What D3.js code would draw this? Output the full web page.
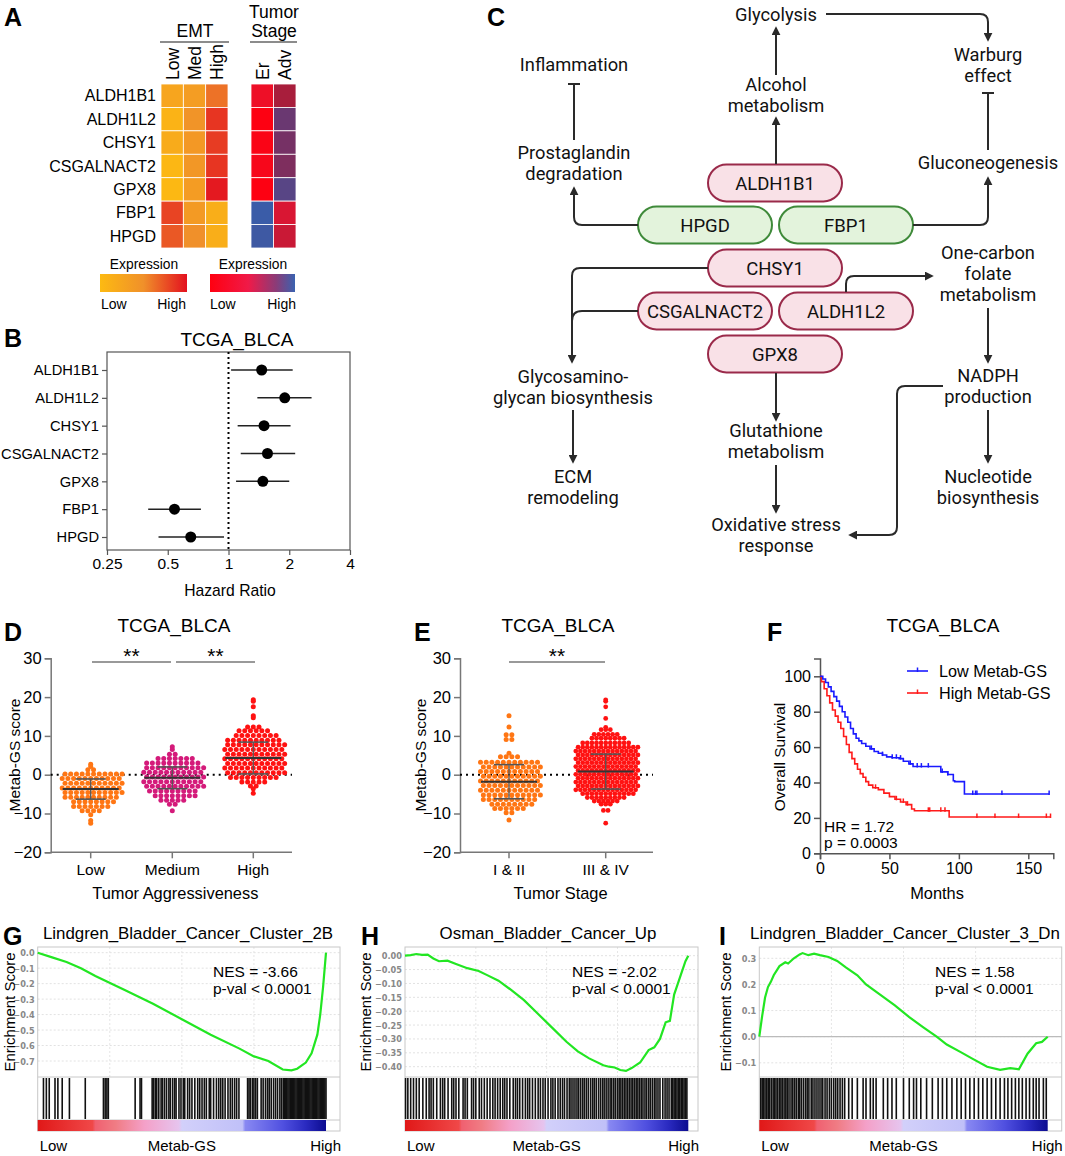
<!DOCTYPE html>
<html>
<head>
<meta charset="utf-8">
<script src="https://cdn.jsdelivr.net/npm/d3@7"></script>
<style>
  body { margin: 0; background: #fff; }
  svg { display: block; }
</style>
</head>
<body>
<div id="fig"></div>
<script>
// ---- data ----
const genes = ['ALDH1B1', 'ALDH1L2', 'CHSY1', 'CSGALNACT2', 'GPX8', 'FBP1', 'HPGD'];
const emtGroups = ['Low', 'Med', 'High'];
const stageGroups = ['Er', 'Adv'];
// relative expression 0 (low) .. 1 (high)
const emtExpr = [
  [0.25, 0.35, 0.62], [0.08, 0.45, 0.86], [0.18, 0.40, 0.83], [0.04, 0.42, 0.86],
  [0.02, 0.36, 0.97], [0.80, 0.38, 0.14], [0.72, 0.50, 0.14]
];
const stageExpr = [
  [0.22, 0.55], [0.02, 0.78], [0.06, 0.73], [0.10, 0.70],
  [0.02, 0.86], [1.00, 0.36], [0.98, 0.42]
];

// panel B, hazard ratios with 95% CI
const hrValue = [1.46, 1.90, 1.50, 1.56, 1.48, 0.54, 0.65];
const hrLow = [1.03, 1.39, 1.11, 1.15, 1.09, 0.40, 0.45];
const hrHigh = [2.08, 2.58, 2.03, 2.14, 2.00, 0.73, 0.95];
const hrTicks = [0.25, 0.5, 1, 2, 4];

// panel D / E: dot rows as [score, number of dots in the row]
const aggrGroups = ['Low', 'Medium', 'High'];
const aggrRows = [
  [[2.7,1],[2.1,1],[1.3,2],[0.2,11],[-1,11],[-2.2,11],[-3.4,11],[-4.6,11],[-5.8,10],[-7,8],[-8.2,7],[-9.3,4],[-10.3,1],[-11.8,1],[-12.5,1]],
  [[7.2,1],[6.5,1],[5.3,2],[4.2,7],[3,10],[1.8,11],[0.6,11],[-0.6,11],[-1.8,11],[-3,11],[-4.2,9],[-5.4,8],[-6.6,5],[-7.6,2],[-9.3,1]],
  [[19.3,1],[18.9,1],[17.5,1],[15.2,1],[14.7,1],[12.3,3],[11.3,6],[10.1,8],[8.9,10],[7.7,11],[6.5,11],[5.3,11],[4.1,11],[2.9,11],[1.7,11],[0.5,11],[-0.7,9],[-1.9,5],[-2.9,2],[-3.6,1],[-4.8,1]]
];
const aggrMean = [-3.7, -0.8, 4.3];
const aggrSd = [2.6, 2.8, 4.1];
const aggrColors = ['#ff7614', '#d41a7a', '#ff1212'];

const stageGroupsE = ['I & II', 'III & IV'];
const stageRows = [
  [[15.2,1],[12.3,1],[10.3,2],[9.1,2],[5.5,1],[4.6,4],[3.2,11],[2,11],[0.8,11],[-0.4,11],[-1.6,11],[-2.8,11],[-4,11],[-5.2,11],[-6.4,10],[-7.6,8],[-8.7,6],[-9.8,2],[-11.7,1]],
  [[19.3,1],[18.9,1],[17.5,1],[14.5,1],[12.2,1],[11.6,3],[10.4,6],[9.4,8],[8.2,11],[7.1,14],[6.1,14],[5.1,14],[4.1,14],[3.1,14],[2.1,14],[1.1,14],[0.1,14],[-0.9,14],[-1.9,14],[-2.9,14],[-3.9,14],[-4.9,12],[-5.9,9],[-6.8,6],[-7.6,3],[-9.2,2],[-12.5,1]]
];
const stageMean = [-1.8, 0.8];
const stageSd = [4.4, 4.5];
const stageColors = ['#ff7614', '#ff1212'];
const scoreTicks = [-20, -10, 0, 10, 20, 30];

// panel F: Kaplan-Meier steps [month, % surviving] and censor marks
const kmLowSteps = [[0,100],[2,98.5],[4,96.5],[6,94],[8,91.5],[10,88.5],[12,86],[14,83],[16,80],[18,77],[20,74],[22,70.5],[24,67.5],[26,65],[28,63.5],[30,62],[33,60.5],[36,59],[39,57.5],[42,56.5],[45,55.5],[48,54.5],[52,54],[57,53.5],[60,52],[64,50.5],[67,49],[87,46],[92,44.5],[96,41],[97,40.5],[104,33.5],[165,33.5]];
const kmLowCensor = [37, 45, 52, 55, 58, 65, 70, 73, 78, 88, 92, 110, 112, 113, 131, 165];
const kmHighSteps = [[0,100],[1,97],[3,93],[5,89],[7,85],[9,81],[11,77.5],[13,74],[15,70.5],[17,66],[19,61.5],[21,57],[23,53.5],[25,50.5],[27,47.5],[29,45],[31,43],[33,40.5],[35,38.5],[38,37],[42,36],[46,34],[50,32],[54,30.5],[58,29],[62,27.5],[66,25],[68,24],[93,20.5],[166,20.5]];
const kmHighCensor = [40, 55, 60, 63, 78, 79, 87, 90, 113, 126, 143, 163, 166];
const kmTicksX = [0, 50, 100, 150];
const kmTicksY = [0, 20, 40, 60, 80, 100];

// panels G-I: running enrichment score (rank fraction, ES) and hit positions
const esG = [[0,0],[0.05,-0.03],[0.1,-0.06],[0.15,-0.1],[0.2,-0.15],[0.3,-0.24],[0.4,-0.33],[0.5,-0.43],[0.6,-0.53],[0.7,-0.62],[0.75,-0.67],[0.8,-0.70],[0.85,-0.755],[0.88,-0.76],[0.9,-0.75],[0.93,-0.71],[0.95,-0.65],[0.97,-0.53],[0.98,-0.40],[0.99,-0.22],[1,0]];
const hitsG = [0.02,0.03,0.04,0.06,0.07,0.085,0.11,0.165,0.228,0.234,0.24,0.245,0.338,0.355,0.36,
  0.397,0.402,0.408,0.413,0.42,0.428,0.433,0.44,0.447,0.455,0.46,0.468,0.475,0.48,0.49,0.497,0.505,0.51,0.52,0.527,0.535,0.545,0.555,0.562,0.57,0.578,0.585,0.595,0.6,0.61,0.62,0.628,0.635,0.642,0.65,0.66,0.668,0.675,0.683,0.69,0.698,
  0.728,0.733,0.738,0.745,0.75,0.756,0.762,0.775,0.782,0.79,0.797,0.803,0.81,0.818,0.825,0.832,0.84,0.846,
  0.852,0.856,0.86,0.864,0.868,0.872,0.876,0.88,0.884,0.888,0.892,0.896,0.9,0.904,0.908,0.912,0.916,0.92,0.924,0.928,0.932,0.936,0.94,0.944,0.948,0.952,0.956,0.96,0.964,0.968,0.972,0.976,0.98,0.984,0.988,0.992,0.996,1];
const esH = [[0,0],[0.02,0.002],[0.04,0.006],[0.06,0.003],[0.08,0.004],[0.1,-0.01],[0.12,-0.02],[0.15,-0.018],[0.18,-0.03],[0.22,-0.045],[0.26,-0.055],[0.29,-0.07],[0.33,-0.09],[0.37,-0.12],[0.42,-0.16],[0.47,-0.21],[0.52,-0.26],[0.57,-0.31],[0.61,-0.345],[0.65,-0.37],[0.7,-0.395],[0.72,-0.40],[0.74,-0.403],[0.76,-0.412],[0.78,-0.415],[0.8,-0.405],[0.83,-0.385],[0.86,-0.34],[0.88,-0.33],[0.9,-0.30],[0.92,-0.24],[0.935,-0.235],[0.95,-0.14],[0.97,-0.08],[0.99,-0.02],[1,0]];
const hitsH = [0.002,0.01,0.02,0.03,0.04,0.05,0.063,0.075,0.085,0.092,0.1,0.112,0.125,0.133,0.14,0.152,0.165,0.172,0.18,0.19,0.205,0.212,0.22,0.235,0.242,0.25,0.262,0.27,0.28,0.29,0.3,0.31,0.318,0.327,0.336,0.345,0.352,0.36,0.37,0.382,0.39,0.397,0.405,0.415,0.425,0.433,0.44,0.45,0.46,0.47,0.478,0.487,0.495,0.505,0.515,0.522,0.53,0.54,0.548,0.556,0.563,0.572,0.58,0.586,0.593,0.6,0.607,0.613,0.62,0.627,0.633,0.64,0.647,0.655,0.662,0.668,0.675,0.683,0.69,0.697,0.703,0.71,0.717,0.724,0.73,0.737,0.743,0.75,0.756,0.762,0.768,0.774,0.78,0.786,0.792,0.798,0.804,0.81,0.816,0.822,0.828,0.834,0.84,0.847,0.853,0.86,0.866,0.873,0.88,0.886,0.893,0.9,0.91,0.918,0.925,0.932,0.94,0.945,0.95,0.955,0.96,0.965,0.97,0.975,0.98,0.985,0.99,0.995];
const esI = [[0,0],[0.01,0.08],[0.02,0.15],[0.03,0.19],[0.04,0.21],[0.05,0.235],[0.07,0.27],[0.09,0.285],[0.1,0.28],[0.12,0.30],[0.14,0.315],[0.15,0.32],[0.17,0.312],[0.19,0.318],[0.21,0.312],[0.24,0.305],[0.27,0.29],[0.3,0.265],[0.34,0.235],[0.37,0.20],[0.42,0.16],[0.47,0.12],[0.52,0.075],[0.57,0.035],[0.615,0],[0.65,-0.03],[0.7,-0.06],[0.74,-0.085],[0.79,-0.115],[0.835,-0.127],[0.87,-0.12],[0.9,-0.125],[0.93,-0.065],[0.96,-0.025],[0.98,-0.02],[1,0]];
const hitsI = [0.005,0.01,0.015,0.02,0.026,0.031,0.036,0.042,0.048,0.053,0.058,0.064,0.07,0.075,0.08,0.086,0.092,0.097,0.103,0.11,0.116,0.122,0.128,0.135,0.14,0.146,0.153,0.16,0.166,0.172,0.18,0.186,0.193,0.2,0.207,0.214,0.22,0.228,0.235,0.243,0.25,0.258,0.265,0.272,0.28,0.288,0.296,0.31,0.322,0.34,0.36,0.37,0.385,0.395,0.405,0.43,0.445,0.46,0.475,0.5,0.52,0.535,0.545,0.56,0.58,0.6,0.62,0.635,0.65,0.668,0.685,0.7,0.715,0.73,0.745,0.76,0.775,0.79,0.805,0.82,0.835,0.85,0.862,0.875,0.888,0.9,0.912,0.925,0.937,0.95,0.96,0.97,0.985,0.995];

// ---- drawing ----
const W = 1065, H = 1156;
const FONT = '"Liberation Sans", Arial, Helvetica, sans-serif';
const svg = d3.select('#fig').append('svg')
  .attr('width', W).attr('height', H)
  .attr('viewBox', `0 0 ${W} ${H}`)
  .style('font-family', FONT);
const defs = svg.append('defs');

function panelLabel(t, x, y) {
  svg.append('text').attr('x', x).attr('y', y).text(t)
    .style('font-size', '25px').style('font-weight', 'bold').attr('fill', '#000');
}

function addText(g, t, x, y, size, anchor = 'middle') {
  return g.append('text').attr('x', x).attr('y', y).text(t)
    .attr('text-anchor', anchor).style('font-size', size + 'px').attr('fill', '#000');
}

function gradient(id, stops) {
  const lg = defs.append('linearGradient').attr('id', id).attr('x1', 0).attr('x2', 1).attr('y1', 0).attr('y2', 0);
  stops.forEach(([o, c]) => lg.append('stop').attr('offset', o).attr('stop-color', c));
}

// Panel A: heatmaps
(function drawHeatmaps() {
  const g = svg.append('g');
  panelLabel('A', 4, 26);
  const y = d3.scaleBand().domain(genes).range([84, 248]);
  const xE = d3.scaleBand().domain(emtGroups).range([161, 228]);
  const xS = d3.scaleBand().domain(stageGroups).range([251, 296]);
  const emtColor = d3.scaleLinear().domain([0, 0.5, 1]).range(['#fdba12', '#f0902a', '#e3111f']);
  const stageColor = d3.scaleLinear().domain([0, 0.3, 0.55, 0.75, 1])
    .range(['#ff0010', '#e81430', '#a81e3c', '#70336a', '#3a5ca8']);

  const emtCells = genes.flatMap((gn, i) => emtGroups.map((c, j) => ({ gn, c, v: emtExpr[i][j] })));
  const stageCells = genes.flatMap((gn, i) => stageGroups.map((c, j) => ({ gn, c, v: stageExpr[i][j] })));

  g.selectAll('.emt').data(emtCells).join('rect')
    .attr('x', d => xE(d.c)).attr('y', d => y(d.gn))
    .attr('width', xE.bandwidth()).attr('height', y.bandwidth())
    .attr('fill', d => emtColor(d.v)).attr('stroke', '#fff').attr('stroke-width', 0.8);
  g.selectAll('.stg').data(stageCells).join('rect')
    .attr('x', d => xS(d.c)).attr('y', d => y(d.gn))
    .attr('width', xS.bandwidth()).attr('height', y.bandwidth())
    .attr('fill', d => stageColor(d.v)).attr('stroke', '#fff').attr('stroke-width', 0.8);

  genes.forEach(gn => addText(g, gn, 156, y(gn) + y.bandwidth() / 2 + 5.5, 16, 'end'));

  // column headers
  emtGroups.forEach(c => g.append('text')
    .attr('transform', `translate(${xE(c) + xE.bandwidth() / 2 + 6.5},80) rotate(-90)`)
    .text(c).style('font-size', '17.5px'));
  stageGroups.forEach(c => g.append('text')
    .attr('transform', `translate(${xS(c) + xS.bandwidth() / 2 + 6.5},80) rotate(-90)`)
    .text(c).style('font-size', '17.5px'));
  addText(g, 'EMT', 195, 37, 17.5);
  addText(g, 'Tumor', 274, 18, 17.5);
  addText(g, 'Stage', 274, 37, 17.5);
  g.append('line').attr('x1', 160).attr('x2', 229).attr('y1', 42).attr('y2', 42).attr('stroke', '#666').attr('stroke-width', 1.5);
  g.append('line').attr('x1', 250).attr('x2', 297).attr('y1', 42).attr('y2', 42).attr('stroke', '#666').attr('stroke-width', 1.5);

  // colour keys
  gradient('gradEmt', [[0, '#fdba12'], [0.5, '#f0902a'], [1, '#e3111f']]);
  gradient('gradStage', [[0, '#ff0010'], [0.45, '#f01a48'], [0.78, '#8a3c78'], [1, '#3a62b0']]);
  g.append('rect').attr('x', 100).attr('y', 274).attr('width', 87).attr('height', 18).attr('fill', 'url(#gradEmt)');
  g.append('rect').attr('x', 210).attr('y', 274).attr('width', 85).attr('height', 18).attr('fill', 'url(#gradStage)');
  addText(g, 'Expression', 144, 269, 13.8);
  addText(g, 'Expression', 253, 269, 13.8);
  addText(g, 'Low', 101, 309, 14, 'start');
  addText(g, 'High', 186, 309, 14, 'end');
  addText(g, 'Low', 210, 309, 14, 'start');
  addText(g, 'High', 296, 309, 14, 'end');
})();

// Panel B: forest plot
(function drawForest() {
  const g = svg.append('g');
  panelLabel('B', 4, 347);
  const x = d3.scaleLog().base(2).domain([0.25, 4]).range([107, 350]);
  const y = d3.scalePoint().domain(genes).range([370, 537]);
  addText(g, 'TCGA_BLCA', 237, 346, 19);
  g.append('rect').attr('x', 107).attr('y', 352).attr('width', 243).attr('height', 198)
    .attr('fill', 'none').attr('stroke', '#555').attr('stroke-width', 1.2);
  g.append('g').attr('transform', 'translate(0,550)')
    .call(d3.axisBottom(x).tickValues(hrTicks).tickFormat(d => d).tickSize(5))
    .call(a => a.select('.domain').remove())
    .call(a => a.selectAll('line').attr('stroke', '#555').attr('stroke-width', 1.2))
    .call(a => a.selectAll('text').style('font-size', '15.5px').style('font-family', FONT).attr('fill', '#000'));
  g.append('g').attr('transform', 'translate(107,0)')
    .call(d3.axisLeft(y).tickSize(5))
    .call(a => a.select('.domain').remove())
    .call(a => a.selectAll('line').attr('stroke', '#555').attr('stroke-width', 1.2))
    .call(a => a.selectAll('text').style('font-size', '14.7px').style('font-family', FONT).attr('fill', '#000'));
  g.append('line').attr('x1', x(1)).attr('x2', x(1)).attr('y1', 352).attr('y2', 550)
    .attr('stroke', '#000').attr('stroke-width', 2).attr('stroke-dasharray', '2,3');
  genes.forEach((gn, i) => {
    g.append('line').attr('x1', x(hrLow[i])).attr('x2', x(hrHigh[i])).attr('y1', y(gn)).attr('y2', y(gn))
      .attr('stroke', '#222').attr('stroke-width', 1.5);
    g.append('circle').attr('cx', x(hrValue[i])).attr('cy', y(gn)).attr('r', 5.5).attr('fill', '#000');
  });
  addText(g, 'Hazard Ratio', 230, 596, 15.7);
})();

// Panel C: pathway diagram
(function drawPathway() {
  const g = svg.append('g').style('font-family', 'Roboto, "Noto Sans", sans-serif');
  panelLabel('C', 487, 26);
  const ink = '#2a2a2a';
  const marker = defs.append('marker').attr('id', 'arrow').attr('viewBox', '0 0 10 10')
    .attr('refX', 8).attr('refY', 5).attr('markerWidth', 4.5).attr('markerHeight', 4.5)
    .attr('orient', 'auto-start-reverse');
  marker.append('path').attr('d', 'M0,0 L10,5 L0,10 z').attr('fill', ink);

  const labels = [
    [['Glycolysis'], 776, 14], [['Warburg', 'effect'], 988, 54], [['Inflammation'], 574, 64],
    [['Alcohol', 'metabolism'], 776, 84], [['Prostaglandin', 'degradation'], 574, 152],
    [['Gluconeogenesis'], 988, 162], [['One-carbon', 'folate', 'metabolism'], 988, 252],
    [['Glycosamino-', 'glycan biosynthesis'], 573, 376], [['NADPH', 'production'], 988, 375],
    [['Glutathione', 'metabolism'], 776, 430], [['ECM', 'remodeling'], 573, 476],
    [['Nucleotide', 'biosynthesis'], 988, 476], [['Oxidative stress', 'response'], 776, 524]
  ];
  labels.forEach(([lines, x, y0]) => lines.forEach((t, k) =>
    g.append('text').attr('x', x).attr('y', y0 + k * 21 + 6.5).text(t)
      .attr('text-anchor', 'middle').style('font-size', '18.3px').attr('fill', '#111')));

  const pills = [
    ['ALDH1B1', 775, 183, 'pink'], ['HPGD', 705, 225, 'green'], ['FBP1', 846, 225, 'green'],
    ['CHSY1', 775, 268, 'pink'], ['CSGALNACT2', 705, 311, 'pink'], ['ALDH1L2', 846, 311, 'pink'],
    ['GPX8', 775, 354, 'pink']
  ];
  pills.forEach(([t, cx, cy, kind]) => {
    g.append('rect').attr('x', cx - 67).attr('y', cy - 18.5).attr('width', 134).attr('height', 37)
      .attr('rx', 18.5).attr('fill', kind === 'green' ? '#e3f3dc' : '#f9e1e7')
      .attr('stroke', kind === 'green' ? '#3f8a3a' : '#9a2a4a').attr('stroke-width', 2);
    g.append('text').attr('x', cx).attr('y', cy + 6.5).text(t).attr('text-anchor', 'middle')
      .style('font-size', '18.5px').attr('fill', '#111');
  });

  const arrows = [
    'M826,14 H980 Q988,14 988,22 V40',
    'M776,75 V28',
    'M776,164 V118',
    'M638,225 H582 Q574,225 574,217 V188',
    'M913,225 H980 Q988,225 988,217 V178',
    'M708,268 H580 Q572,268 572,276 V362',
    'M846,292 V284 Q846,276 854,276 H932',
    'M988,308 V362',
    'M988,410 V462',
    'M943,386 H905 Q897,386 897,394 V527 Q897,535 889,535 H850',
    'M776,373 V420',
    'M776,465 V512',
    'M573,410 V462'
  ];
  arrows.forEach(d => g.append('path').attr('d', d).attr('fill', 'none').attr('stroke', ink)
    .attr('stroke-width', 2).attr('marker-end', 'url(#arrow)'));
  g.append('path').attr('d', 'M638,311 H582 Q572,311 572,321').attr('fill', 'none').attr('stroke', ink).attr('stroke-width', 2);
  // inhibition edges
  [[574, 140, 84], [988, 150, 93]].forEach(([x, y1, y2]) => {
    g.append('line').attr('x1', x).attr('x2', x).attr('y1', y1).attr('y2', y2).attr('stroke', ink).attr('stroke-width', 2);
    g.append('line').attr('x1', x - 6).attr('x2', x + 6).attr('y1', y2).attr('y2', y2).attr('stroke', ink).attr('stroke-width', 2);
  });
})();

// Panels D and E: scatter dot plots with mean +/- SD
function drawDotPlot(o) {
  const g = svg.append('g');
  panelLabel(o.label, o.labelX, 641);
  const y = d3.scaleLinear().domain([-20, 30]).range([852.3, 658.3]);
  const x = d3.scaleOrdinal().domain(o.groups).range(o.centers);
  addText(g, 'TCGA_BLCA', o.titleX, 632, 19);
  g.append('g').attr('transform', `translate(${o.axisX},0)`)
    .call(d3.axisLeft(y).tickValues(scoreTicks).tickSize(6))
    .call(a => a.select('.domain').attr('stroke', '#777').attr('stroke-width', 1.5))
    .call(a => a.selectAll('line').attr('stroke', '#777').attr('stroke-width', 1.5))
    .call(a => a.selectAll('text').style('font-size', '16.5px').style('font-family', FONT).attr('fill', '#000'));
  g.append('line').attr('x1', o.axisX).attr('x2', o.axisEnd).attr('y1', y(-20)).attr('y2', y(-20))
    .attr('stroke', '#777').attr('stroke-width', 1.5);
  o.groups.forEach(gr => {
    g.append('line').attr('x1', x(gr)).attr('x2', x(gr)).attr('y1', y(-20)).attr('y2', y(-20) + 6)
      .attr('stroke', '#777').attr('stroke-width', 1.5);
    addText(g, gr, x(gr), 875, 15.5);
  });
  g.append('line').attr('x1', o.axisX).attr('x2', o.axisEnd).attr('y1', y(0)).attr('y2', y(0))
    .attr('stroke', '#000').attr('stroke-width', 2).attr('stroke-dasharray', '2,4');
  addText(g, o.xTitle, (o.axisX + o.axisEnd) / 2 + 4, 899, 16.4);
  g.append('text').attr('transform', `translate(${o.yTitleX},755) rotate(-90)`)
    .attr('text-anchor', 'middle').text('Metab-GS score').style('font-size', '15.5px');

  o.groups.forEach((gr, i) => {
    const sp = o.sp[i];
    const dots = o.rows[i].flatMap(([v, n], ri) => d3.range(n).map(k => ({
      v, dx: (k - (n - 1) / 2) * sp + (n > 6 && ri % 2 ? sp / 2 : 0)
    })));
    g.append('g').selectAll('circle').data(dots).join('circle')
      .attr('cx', d => x(gr) + d.dx).attr('cy', d => y(d.v)).attr('r', o.r[i]).attr('fill', o.colors[i]);
    const m = o.mean[i], s = o.sd[i], cx = x(gr);
    g.append('line').attr('x1', cx).attr('x2', cx).attr('y1', y(m - s)).attr('y2', y(m + s)).attr('stroke', '#555').attr('stroke-width', 1.3);
    [m - s, m + s].forEach(v => g.append('line').attr('x1', cx - 15).attr('x2', cx + 15).attr('y1', y(v)).attr('y2', y(v))
      .attr('stroke', '#555').attr('stroke-width', 1.6));
    g.append('line').attr('x1', cx - 28).attr('x2', cx + 28).attr('y1', y(m)).attr('y2', y(m))
      .attr('stroke', '#333').attr('stroke-width', 2);
  });
  o.sig.forEach(([a, b]) => {
    g.append('line').attr('x1', a).attr('x2', b).attr('y1', 662).attr('y2', 662).attr('stroke', '#777').attr('stroke-width', 1.3);
    addText(g, '**', (a + b) / 2, 663, 21);
  });
}

drawDotPlot({
  label: 'D', labelX: 4, titleX: 174, groups: aggrGroups, centers: [90.7, 172.3, 253.3],
  rows: aggrRows, mean: aggrMean, sd: aggrSd, colors: aggrColors, sp: [5.7, 5.7, 5.7], r: [2.5, 2.5, 2.5],
  axisX: 50.7, axisEnd: 292, xTitle: 'Tumor Aggressiveness', yTitleX: 20,
  sig: [[92, 171], [176, 255]]
});
drawDotPlot({
  label: 'E', labelX: 414, titleX: 558, groups: stageGroupsE, centers: [509, 605.7],
  rows: stageRows, mean: stageMean, sd: stageSd, colors: stageColors, sp: [5.7, 4.6], r: [2.5, 2.4],
  axisX: 460, axisEnd: 653, xTitle: 'Tumor Stage', yTitleX: 426,
  sig: [[509, 605]]
});

// Panel F: Kaplan-Meier
(function drawKM() {
  const g = svg.append('g');
  panelLabel('F', 767, 641);
  addText(g, 'TCGA_BLCA', 943, 632, 19);
  const x = d3.scaleLinear().domain([0, 168]).range([820, 1053.3]);
  const y = d3.scaleLinear().domain([0, 110]).range([853.3, 658.6]);
  g.append('g').attr('transform', 'translate(820,0)')
    .call(d3.axisLeft(y).tickValues(kmTicksY).tickSize(6))
    .call(a => a.select('.domain').attr('stroke', '#555').attr('stroke-width', 1.5))
    .call(a => a.selectAll('line').attr('stroke', '#555').attr('stroke-width', 1.5))
    .call(a => a.selectAll('text').style('font-size', '16px').style('font-family', FONT).attr('fill', '#000'));
  g.append('g').attr('transform', 'translate(0,853.3)')
    .call(d3.axisBottom(x).tickValues(kmTicksX).tickSize(6))
    .call(a => a.select('.domain').attr('stroke', '#555').attr('stroke-width', 1.5))
    .call(a => a.selectAll('line').attr('stroke', '#555').attr('stroke-width', 1.5))
    .call(a => a.selectAll('text').style('font-size', '16px').style('font-family', FONT).attr('fill', '#000'));
  addText(g, 'Months', 937, 899, 16.4);
  g.append('text').attr('transform', 'translate(785,757) rotate(-90)').attr('text-anchor', 'middle')
    .text('Overall Survival').style('font-size', '15.5px');

  const line = d3.line().x(d => x(d[0])).y(d => y(d[1])).curve(d3.curveStepAfter);
  const series = [[kmHighSteps, kmHighCensor, '#ff1a1a'], [kmLowSteps, kmLowCensor, '#1a1aff']];
  series.forEach(([steps, cens, col]) => {
    g.append('path').datum(steps).attr('d', line).attr('fill', 'none').attr('stroke', col).attr('stroke-width', 1.6);
    const times = steps.map(d => d[0]);
    cens.forEach(t => {
      const s = steps[Math.max(0, d3.bisectRight(times, t) - 1)][1];
      g.append('line').attr('x1', x(t)).attr('x2', x(t)).attr('y1', y(s) - 3.5).attr('y2', y(s) + 1)
        .attr('stroke', col).attr('stroke-width', 1.5);
    });
  });
  [['Low Metab-GS', '#1a1aff', 671], ['High Metab-GS', '#ff1a1a', 693]].forEach(([t, col, yy]) => {
    g.append('line').attr('x1', 907).attr('x2', 928).attr('y1', yy).attr('y2', yy).attr('stroke', col).attr('stroke-width', 1.6);
    g.append('line').attr('x1', 917.5).attr('x2', 917.5).attr('y1', yy - 3.5).attr('y2', yy + 1).attr('stroke', col).attr('stroke-width', 1.5);
    addText(g, t, 939, yy + 6, 16.2, 'start');
  });
  addText(g, 'HR = 1.72', 824, 832, 15.5, 'start');
  addText(g, 'p = 0.0003', 824, 848, 15.5, 'start');
})();

// Panels G-I: GSEA enrichment plots
gradient('gradRank', [[0, '#e01818'], [0.19, '#f04848'], [0.2, '#f06070'], [0.27, '#f07c84'], [0.37, '#f4a0c8'],
  [0.49, '#e6c4ee'], [0.5, '#d2d0fa'], [0.71, '#c0c0f8'], [0.72, '#8888f2'], [0.85, '#5050e0'], [0.93, '#2a2ac0'], [1, '#0c0c90']]);

function drawGsea(o) {
  const g = svg.append('g');
  const top = 947, esB = 1077, hitB = 1120, barB = 1131;
  const x = d3.scaleLinear().domain([0, 1]).range([o.left, o.end]);
  const y = d3.scaleLinear().domain(o.yDomain).range(o.yRange);
  panelLabel(o.label, o.labelX, 945);
  addText(g, o.title, o.titleX, 939, 16.9);

  // grid
  o.ticks.forEach(t => g.append('line').attr('x1', o.left).attr('x2', o.right).attr('y1', y(t)).attr('y2', y(t))
    .attr('stroke', '#e2e2e2').attr('stroke-dasharray', '2,2'));
  [0.25, 0.5, 0.75].forEach(f => g.append('line').attr('x1', x(f)).attr('x2', x(f)).attr('y1', top).attr('y2', esB)
    .attr('stroke', '#e6e6e6').attr('stroke-dasharray', '2,2'));
  if (o.zeroLine) g.append('line').attr('x1', o.left).attr('x2', o.right).attr('y1', y(0)).attr('y2', y(0))
    .attr('stroke', '#bbb').attr('stroke-width', 1.3);

  // frame
  g.append('rect').attr('x', o.left).attr('y', top).attr('width', o.right - o.left).attr('height', barB - top)
    .attr('fill', 'none').attr('stroke', '#c8c8c8').attr('stroke-width', 1);
  [esB, hitB].forEach(yy => g.append('line').attr('x1', o.left).attr('x2', o.right).attr('y1', yy).attr('y2', yy)
    .attr('stroke', '#c8c8c8'));

  o.ticks.forEach(t => g.append('text').attr('x', o.left - 3).attr('y', y(t) + 3.5).attr('text-anchor', 'end')
    .text(o.fmt(t)).style('font-family', '"DejaVu Sans", Verdana, sans-serif').style('font-size', '8.2px')
    .style('font-weight', 'bold').attr('fill', '#888'));
  g.append('text').attr('transform', `translate(${o.yTitleX},${(top + esB) / 2}) rotate(-90)`)
    .attr('text-anchor', 'middle').text('Enrichment Score').style('font-size', '15px');

  g.selectAll('.hit').data(o.hits).join('line')
    .attr('x1', d => x(d)).attr('x2', d => x(d)).attr('y1', esB + 1).attr('y2', hitB - 1)
    .attr('stroke', '#111').attr('stroke-width', 1.6);
  g.append('rect').attr('x', o.left).attr('y', hitB).attr('width', o.end - o.left).attr('height', barB - hitB)
    .attr('fill', 'url(#gradRank)');

  g.append('path').datum(o.es).attr('d', d3.line().x(d => x(d[0])).y(d => y(d[1])))
    .attr('fill', 'none').attr('stroke', '#22e622').attr('stroke-width', 2.2);

  addText(g, o.nes, o.nesX, 977, 15.5, 'start');
  addText(g, 'p-val  < 0.0001', o.nesX, 994, 15.5, 'start');
  addText(g, 'Low', o.left + 2, 1151, 15, 'start');
  addText(g, 'Metab-GS', (o.left + o.end) / 2, 1151, 15);
  addText(g, 'High', o.right + 1, 1151, 15, 'end');
}

drawGsea({
  label: 'G', labelX: 3, title: 'Lindgren_Bladder_Cancer_Cluster_2B', titleX: 188,
  left: 37.7, end: 326, right: 340, yDomain: [0, -0.7], yRange: [952.7, 1061],
  ticks: [0, -0.1, -0.2, -0.3, -0.4, -0.5, -0.6, -0.7], fmt: d3.format('.1f'),
  es: esG, hits: hitsG, nes: 'NES = -3.66', nesX: 213, yTitleX: 15
});
drawGsea({
  label: 'H', labelX: 361, title: 'Osman_Bladder_Cancer_Up', titleX: 548,
  left: 405, end: 688.3, right: 698, yDomain: [0, -0.4], yRange: [955.7, 1066.7],
  ticks: [0, -0.05, -0.1, -0.15, -0.2, -0.25, -0.3, -0.35, -0.4], fmt: d3.format('.2f'),
  es: esH, hits: hitsH, nes: 'NES = -2.02', nesX: 572, yTitleX: 371
});
drawGsea({
  label: 'I', labelX: 719, title: 'Lindgren_Bladder_Cancer_Cluster_3_Dn', titleX: 905,
  left: 759.3, end: 1047.7, right: 1061.7, yDomain: [0, 0.3], yRange: [1036.7, 958.3],
  ticks: [0.3, 0.2, 0.1, 0, -0.1], fmt: d3.format('.1f'), zeroLine: true,
  es: esI, hits: hitsI, nes: 'NES = 1.58', nesX: 935, yTitleX: 731
});
</script>
</body>
</html>
